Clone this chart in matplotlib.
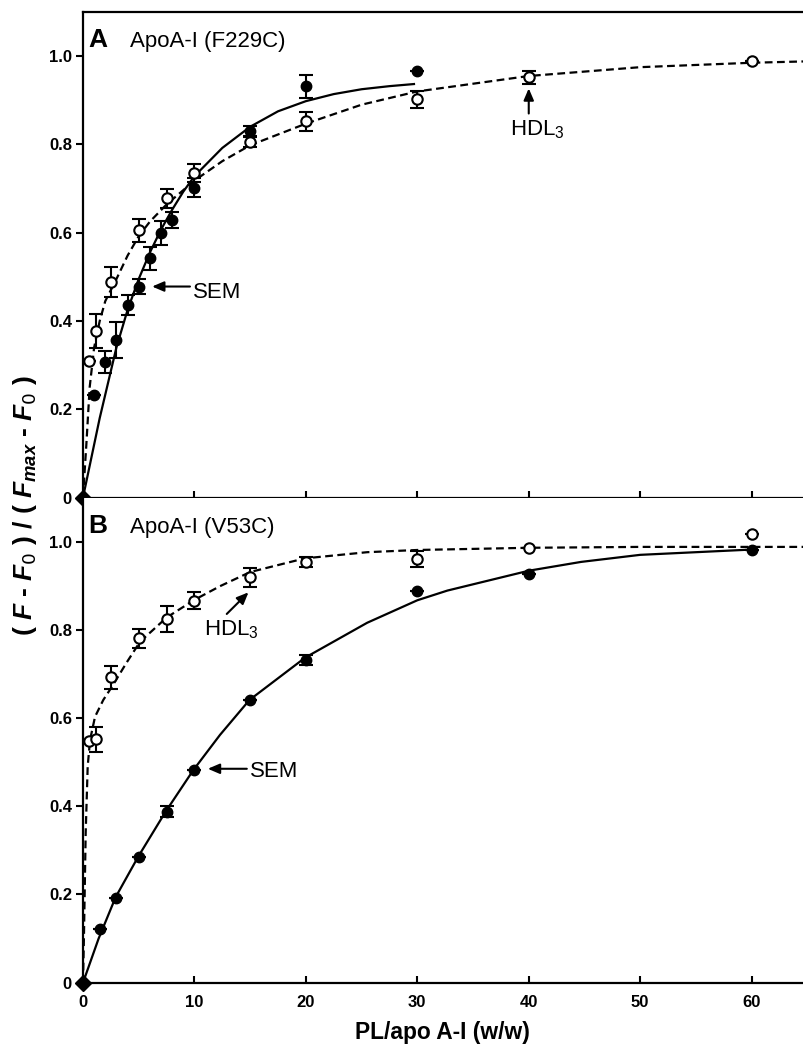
import matplotlib
matplotlib.use("Agg")
import matplotlib.pyplot as plt

plt.rcParams['font.family'] = ['Liberation Sans', 'DejaVu Sans']
plt.rcParams['mathtext.fontset'] = 'custom'
plt.rcParams['mathtext.default'] = 'regular'
plt.rcParams['mathtext.it'] = 'Liberation Sans:italic:bold'

# ---- panel A: ApoA-I (F229C) ----
xA_sem = [0, 1, 2, 3, 4, 5, 6, 7, 8, 10, 15, 20, 30]
yA_sem = [0, 0.233, 0.307, 0.357, 0.436, 0.478, 0.542, 0.599, 0.629, 0.702, 0.830, 0.932, 0.966]
eA_sem = [0, 0, 0.025, 0.04, 0.023, 0.018, 0.026, 0.028, 0.018, 0.021, 0.011, 0.026, 0]

xA_hdl = [0.5, 1.2, 2.5, 5, 7.5, 10, 15, 20, 30, 40, 60]
yA_hdl = [0.309, 0.377, 0.489, 0.605, 0.678, 0.735, 0.805, 0.852, 0.902, 0.952, 0.990]
eA_hdl = [0, 0.038, 0.034, 0.026, 0.021, 0.02, 0.012, 0.022, 0.019, 0.014, 0]

# fitted curves
fitA_sem_x = [0, 1.5, 3, 4, 5, 6, 7, 8, 9, 10, 12.5, 15, 17.5, 20, 22.5, 25, 27.5, 29.8]
fitA_sem_y = [0, 0.18, 0.34, 0.425, 0.495, 0.555, 0.607, 0.652, 0.693, 0.728, 0.792, 0.840, 0.875,
              0.898, 0.914, 0.925, 0.932, 0.937]
fitA_hdl_x = [0, 0.3, 0.6, 1.0, 1.5, 2.0, 2.5, 3.0, 4.0, 5.0, 6.0, 7.5, 10, 12.5, 15, 20, 25, 30,
              40, 50, 60, 64.7]
fitA_hdl_y = [0, 0.12, 0.25, 0.34, 0.40, 0.445, 0.47, 0.495, 0.548, 0.592, 0.625, 0.664, 0.718,
              0.762, 0.798, 0.847, 0.89, 0.92, 0.955, 0.975, 0.985, 0.988]

# ---- panel B: ApoA-I (V53C) ----
xB_sem = [0, 1.5, 3, 5, 7.5, 10, 15, 20, 30, 40, 60]
yB_sem = [0, 0.121, 0.193, 0.284, 0.388, 0.483, 0.641, 0.732, 0.887, 0.927, 0.982]
eB_sem = [0, 0, 0, 0, 0.012, 0, 0, 0.012, 0, 0, 0]

xB_hdl = [0.5, 1.2, 2.5, 5, 7.5, 10, 15, 20, 30, 40, 60]
yB_hdl = [0.547, 0.552, 0.692, 0.781, 0.824, 0.866, 0.919, 0.954, 0.961, 0.986, 1.017]
eB_hdl = [0, 0.028, 0.026, 0.022, 0.03, 0.019, 0.022, 0.012, 0.018, 0, 0]

fitB_sem_x = [0, 1.4, 2.93, 4.96, 7.42, 9.9, 12.3, 14.94, 19.94, 25.5, 30, 32.7, 40, 44.7, 50, 60]
fitB_sem_y = [0, 0.10, 0.194, 0.286, 0.388, 0.482, 0.562, 0.641, 0.737, 0.816, 0.867, 0.889, 0.934,
              0.954, 0.970, 0.982]
fitB_hdl_x = [0, 0.09, 0.24, 0.42, 0.63, 1.08, 1.82, 2.57, 3.92, 5.12, 7.51, 10, 12.3, 15, 19.9,
              25.5, 30, 40, 50, 60, 64.8]
fitB_hdl_y = [0, 0.112, 0.339, 0.49, 0.55, 0.603, 0.641, 0.670, 0.726, 0.773, 0.828, 0.868, 0.899,
              0.931, 0.962, 0.976, 0.981, 0.986, 0.988, 0.988, 0.988]

xticks = [0, 10, 20, 30, 40, 50, 60]
yticks = [0, 0.2, 0.4, 0.6, 0.8, 1.0]
ytick_labels = ["0", "0.2", "0.4", "0.6", "0.8", "1.0"]

fig = plt.figure(figsize=(8.04, 10.44), dpi=100)
W, H = 804, 1044
axA = fig.add_axes([83 / W, 1 - 497.5 / H, (W - 83) / W, (497.5 - 12) / H])
axB = fig.add_axes([83 / W, 1 - 982.7 / H, (W - 83) / W, (982.7 - 497.5) / H])


def draw_panel(ax, xs, ys, es, xh, yh, eh, fsx, fsy, fhx, fhy):
    ax.plot(fsx, fsy, color='k', lw=1.6, solid_capstyle='butt', solid_joinstyle='round')
    ax.plot(fhx, fhy, color='k', lw=1.6, dashes=(3.5, 2.0))
    ax.errorbar(xs[1:], ys[1:], yerr=es[1:], fmt='o', ms=7.5, mfc='k', mec='k',
                ecolor='k', elinewidth=1.5, capsize=5, capthick=1.5, zorder=4)
    ax.errorbar(xh, yh, yerr=eh, fmt='o', ms=7.5, mfc='white', mec='k', mew=1.5,
                ecolor='k', elinewidth=1.5, capsize=5, capthick=1.5, zorder=5)
    ax.plot([xs[0]], [ys[0]], marker='D', ms=8, color='k', clip_on=False, zorder=6)
    ax.set_xlim(0, 64.7)
    ax.set_ylim(0, 1.1)
    ax.spines['right'].set_visible(False)
    for s in ax.spines.values():
        s.set_linewidth(1.6)
    ax.set_xticks(xticks)
    ax.set_yticks(yticks)
    ax.set_yticklabels(ytick_labels)
    ax.tick_params(axis='x', direction='in', length=5, width=1.5, pad=9)
    ax.tick_params(axis='y', direction='out', length=5, width=1.5, pad=3)
    for lab in ax.get_yticklabels() + ax.get_xticklabels():
        lab.set_fontweight('bold')
        lab.set_fontsize(12)


draw_panel(axA, xA_sem, yA_sem, eA_sem, xA_hdl, yA_hdl, eA_hdl,
           fitA_sem_x, fitA_sem_y, fitA_hdl_x, fitA_hdl_y)
draw_panel(axB, xB_sem, yB_sem, eB_sem, xB_hdl, yB_hdl, eB_hdl,
           fitB_sem_x, fitB_sem_y, fitB_hdl_x, fitB_hdl_y)

axA.tick_params(axis='x', labelbottom=False)
axB.spines['top'].set_visible(False)

arrow = dict(arrowstyle='-|>,head_length=0.7,head_width=0.3', color='k', lw=1.5,
             shrinkA=0, shrinkB=0)

# panel A text
axA.text(0.45, 1.021, "A", fontsize=19, fontweight='bold', va='baseline')
axA.text(4.2, 1.021, "ApoA-I (F229C)", fontsize=16, va='baseline')
axA.annotate("", xy=(6.2, 0.478), xytext=(9.6, 0.478), arrowprops=arrow)
axA.text(9.9, 0.465, "SEM", fontsize=16, va='center')
axA.annotate("", xy=(40.0, 0.927), xytext=(40.0, 0.870), arrowprops=arrow)
axA.text(40.8, 0.833, "HDL$_3$", fontsize=16, ha='center', va='center')

# panel B text
axB.text(0.45, 1.02, "B", fontsize=19, fontweight='bold', va='baseline')
axB.text(4.2, 1.02, "ApoA-I (V53C)", fontsize=16, va='baseline')
axB.annotate("", xy=(14.85, 0.885), xytext=(12.9, 0.836), arrowprops=arrow)
axB.text(13.3, 0.80, "HDL$_3$", fontsize=16, ha='center', va='center')
axB.annotate("", xy=(11.2, 0.485), xytext=(14.7, 0.485), arrowprops=arrow)
axB.text(15.0, 0.478, "SEM", fontsize=16, va='center')

fig.text((83 + 0.499 * 721) / W, 1 - 1032 / H, "PL/apo A-I (w/w)",
         fontsize=16.4, fontweight='bold', ha='center', va='center')

fig.text(25 / W, 1 - 505 / H,
         r"( $\mathit{F}$ - $\mathit{F_0}$ ) / ( $\mathit{F_{max}}$ - $\mathit{F_0}$ )",
         rotation=90, fontsize=19, fontweight='bold', ha='center', va='center')

fig.savefig("out.png", dpi=100)
